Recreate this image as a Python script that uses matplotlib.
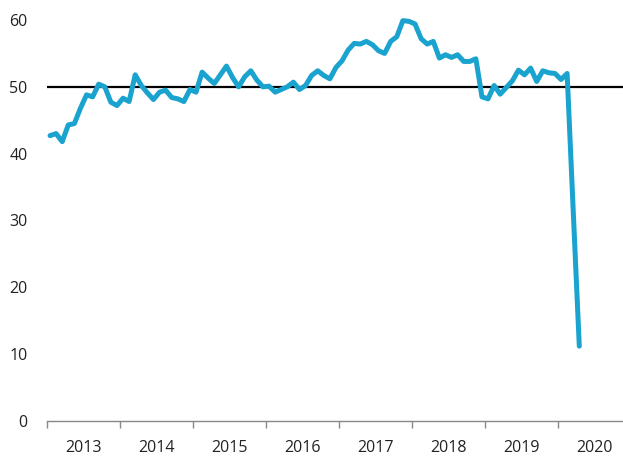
import matplotlib
matplotlib.use("Agg")
import matplotlib.pyplot as plt
import numpy as np

plt.rcParams['font.family'] = ['Open Sans', 'DejaVu Sans']

# Monthly index values, Jan 2013 .. Apr 2020
start_year = 2013
values = [
    # 2013
    42.7, 43.0, 41.8, 44.3, 44.5, 46.8, 48.8, 48.5, 50.4, 50.0, 47.7, 47.2,
    # 2014
    48.3, 47.8, 51.8, 50.2, 49.1, 48.1, 49.2, 49.5, 48.4, 48.2, 47.8, 49.6,
    # 2015
    49.2, 52.2, 51.3, 50.5, 51.8, 53.1, 51.4, 50.0, 51.5, 52.4, 51.0, 50.0,
    # 2016
    50.1, 49.2, 49.6, 50.0, 50.7, 49.6, 50.2, 51.7, 52.4, 51.7, 51.2, 52.9,
    # 2017
    53.9, 55.5, 56.5, 56.4, 56.8, 56.3, 55.4, 55.0, 56.8, 57.5, 59.9, 59.8,
    # 2018
    59.4, 57.2, 56.4, 56.8, 54.3, 54.8, 54.4, 54.8, 53.8, 53.8, 54.2, 48.5,
    # 2019
    48.2, 50.2, 48.9, 49.9, 50.9, 52.5, 51.8, 52.8, 50.8, 52.4, 52.1, 52.0,
    # 2020
    51.1, 52.0, 31.5, 11.2,
]
year_labels = ['2013', '2014', '2015', '2016', '2017', '2018', '2019', '2020']
y_ticks = [0, 10, 20, 30, 40, 50, 60]
threshold = 50

x = start_year + (np.arange(len(values)) + 0.5) / 12.0

fig = plt.figure(figsize=(6.23, 4.59), dpi=100)
ax = fig.add_axes([47 / 623, 38 / 459, 576 / 623, 401 / 459])

ax.axhline(threshold, color='black', lw=1.6, zorder=2)
ax.plot(x, values, color='#1aa3cf', lw=3.6, solid_joinstyle='round',
        solid_capstyle='round', zorder=3, clip_on=False)

ax.set_ylim(0, 60)
ax.set_xlim(start_year, start_year + 576 / 73)

ax.set_yticks(y_ticks)
ax.set_yticklabels([str(v) for v in y_ticks])
ax.tick_params(axis='y', length=0, pad=14, labelsize=11.5, labelcolor='#222222')

years = [int(y) for y in year_labels]
ax.set_xticks(years)
ax.set_xticklabels([])
ax.set_xticks([y + 0.5 for y in years], minor=True)
ax.set_xticklabels(year_labels, minor=True)
ax.tick_params(axis='x', which='major', length=5, width=1, color='#888888', direction='out')
ax.tick_params(axis='x', which='minor', length=0, pad=14, labelsize=11.5, labelcolor='#222222')

for s in ['top', 'right', 'left']:
    ax.spines[s].set_visible(False)
ax.spines['bottom'].set_color('#888888')
ax.spines['bottom'].set_linewidth(1)

fig.savefig('out.png', dpi=100)
